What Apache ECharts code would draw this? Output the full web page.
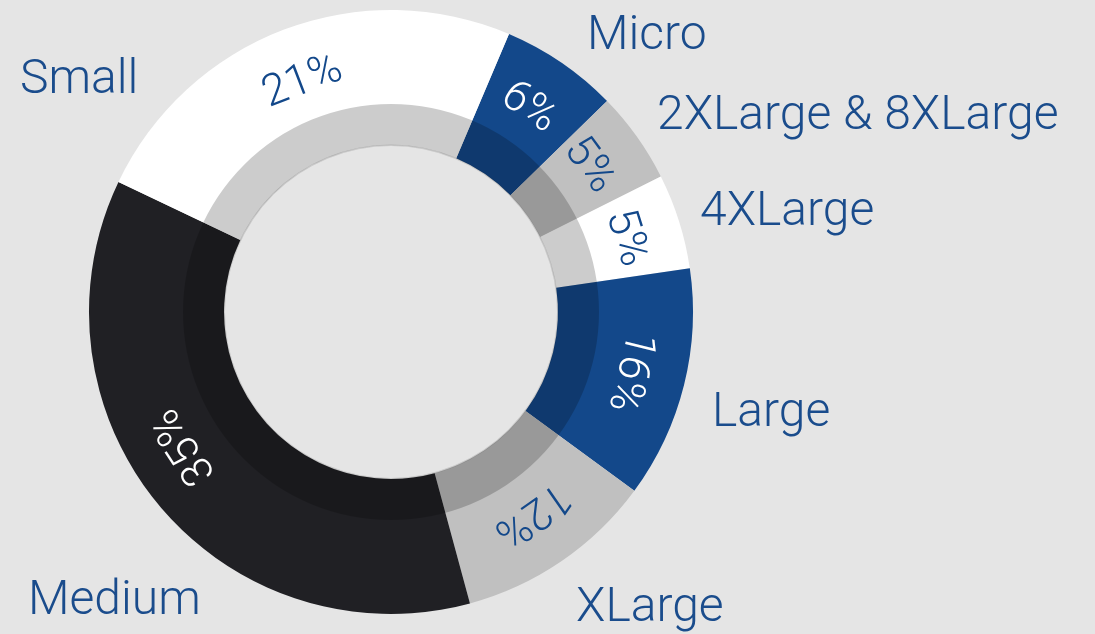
<!DOCTYPE html>
<html>
<head>
<meta charset="utf-8">
<title>Instance sizes</title>
<script src="https://cdn.jsdelivr.net/npm/echarts@6/dist/echarts.min.js"></script>
<style>
  html, body { margin: 0; padding: 0; background: #e5e5e5; }
  #chart { width: 1095px; height: 634px; }
</style>
</head>
<body>
<div id="chart"></div>
<script>
// slices go clockwise, starting from Micro
const sizes = ['Micro', '2XLarge & 8XLarge', '4XLarge', 'Large', 'XLarge', 'Medium', 'Small'];
// arc share of each slice as drawn (percent of the ring)
const arcShare = [6.3, 4.9, 5.1, 12.4, 10.7, 36.3, 24.3];
// percentage text printed on each slice
const shareLabels = ['6%', '5%', '5%', '16%', '12%', '35%', '21%'];

const sliceColors = ['#13488a', '#c0c0c0', '#ffffff', '#13488a', '#c0c0c0', '#202024', '#ffffff'];
const pctColors = ['#ffffff', '#13488a', '#13488a', '#ffffff', '#13488a', '#ffffff', '#13488a'];
// left / middle anchor of each name label
const nameAnchors = [[587, 37], [657, 117], [700, 213], [712, 414], [576, 609], [28, 602], [20, 81]];
// where each percentage sits, degrees clockwise from 12 o'clock
const pctAngles = [34, 53.5, 72.5, 104, 145, 237, 339];

const START = 23; // degrees clockwise from 12 o'clock
const CX = 391, CY = 312;
const PCT_R = 246;
const FONT = 'Roboto';

const chart = echarts.init(document.getElementById('chart'));

chart.setOption({
  backgroundColor: '#e5e5e5',
  animation: false,
  series: [
    {
      type: 'pie',
      center: [CX, CY],
      radius: [167, 302],
      startAngle: 90 - START,
      clockwise: true,
      avoidLabelOverlap: false,
      silent: true,
      itemStyle: { borderWidth: 0 },
      label: {
        show: true,
        position: 'outside',
        fontFamily: FONT,
        fontWeight: 300,
        fontSize: 48,
        color: '#1a4c8c',
        overflow: 'none',
      },
      labelLine: { show: false },
      labelLayout: (params) => {
        const p = nameAnchors[params.dataIndex];
        return { x: p[0], y: p[1], align: 'left', verticalAlign: 'middle' };
      },
      data: sizes.map((name, i) => ({
        name: name,
        value: arcShare[i],
        itemStyle: { color: sliceColors[i] },
      })),
    },
    {
      // darker inner band
      type: 'pie',
      center: [CX, CY],
      radius: [167, 208],
      startAngle: 90,
      silent: true,
      label: { show: false },
      labelLine: { show: false },
      itemStyle: { color: 'rgba(0,0,0,0.2)', borderWidth: 0 },
      data: [{ name: 'band', value: 1 }],
    },
    {
      // thin edge around the hole
      type: 'pie',
      center: [CX, CY],
      radius: [166, 167.5],
      startAngle: 90,
      silent: true,
      label: { show: false },
      labelLine: { show: false },
      itemStyle: { color: 'rgba(0,0,0,0.12)', borderWidth: 0 },
      data: [{ name: 'edge', value: 1 }],
    },
    {
      // percentage labels on the slices
      type: 'pie',
      center: [CX, CY],
      radius: [190, 302],
      startAngle: 90 - START,
      clockwise: true,
      silent: true,
      avoidLabelOverlap: false,
      itemStyle: { color: 'rgba(0,0,0,0)', borderWidth: 0 },
      labelLine: { show: false },
      labelLayout: (params) => {
        const a = pctAngles[params.dataIndex];
        const rad = a * Math.PI / 180;
        return {
          x: CX + PCT_R * Math.sin(rad),
          y: CY - PCT_R * Math.cos(rad),
          align: 'center',
          verticalAlign: 'middle',
          rotate: -a,
        };
      },
      data: sizes.map((name, i) => ({
        name: name,
        value: arcShare[i],
        label: {
          show: true,
          position: 'inside',
          formatter: shareLabels[i],
          fontFamily: FONT,
          fontWeight: 300,
          fontSize: 44,
          color: pctColors[i],
        },
      })),
    },
  ],
});
</script>
</body>
</html>
